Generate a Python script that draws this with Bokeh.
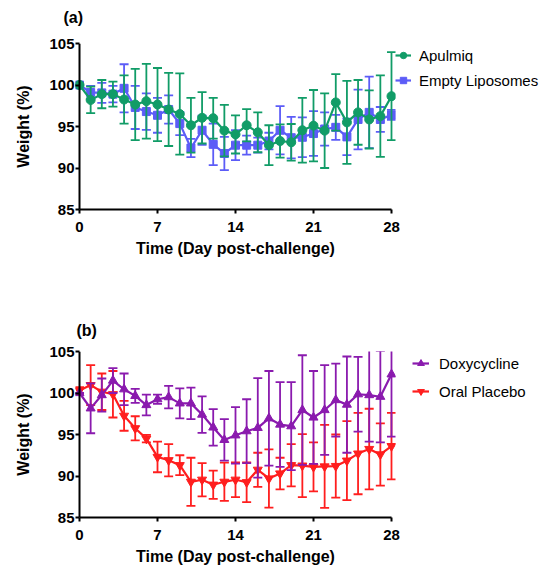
import numpy as np
from bokeh.plotting import figure
from bokeh.models import Range1d, FixedTicker, Legend, LegendItem, ColumnDataSource, Title, Span
from bokeh.layouts import column
from bokeh.embed import file_html
from bokeh.resources import INLINE

days = list(range(29))
x_ticks = [0, 7, 14, 21, 28]
y_ticks = [85, 90, 95, 100, 105]

apulmiq_mean = [100, 98.2, 98.9, 98.9, 98.25, 97.65, 98.05, 97.65, 97.05, 96.5, 95.15, 96.05, 96.0, 94.5, 94.05,
                95.15, 94.3, 92.75, 93.25, 93.1, 94.55, 95.1, 94.5, 97.9, 95.5, 96.7, 95.85, 96.25, 98.65]
apulmiq_err = [0, 1.6, 1.7, 1.5, 2.9, 4.3, 4.5, 4.4, 4.4, 4.9, 3.3, 3.1, 2.45, 3.1, 2.3,
               1.95, 2.4, 2.4, 2.0, 2.2, 3.9, 4.3, 4.5, 3.4, 5.0, 3.9, 3.5, 4.9, 5.3]
empty_mean = [100, 99.1, 99.05, 98.9, 99.6, 97.3, 96.8, 96.35, 97.05, 95.35, 92.4, 94.55, 92.85, 91.75, 92.75,
              92.75, 92.75, 93.25, 94.55, 93.65, 93.7, 94.15, 94.7, 94.9, 93.75, 95.85, 96.7, 95.85, 96.4]
empty_err = [0, 0.8, 1.2, 1.0, 2.9, 2.6, 2.2, 2.1, 1.7, 1.4, 1.1, 1.75, 2.5, 2.0, 1.8,
             1.15, 0.9, 1.0, 2.9, 2.5, 2.4, 2.7, 2.0, 1.5, 2.2, 3.6, 4.3, 1.5, 0.6]
doxy_mean = [100, 98.15, 99.75, 101.5, 100.45, 99.65, 98.55, 99.25, 99.5, 98.75, 98.75, 97.4, 95.85, 94.35, 94.9,
             95.4, 95.8, 96.95, 96.2, 96.0, 97.95, 97.05, 97.95, 99.15, 98.6, 99.85, 99.75, 99.55, 102.25]
doxy_err = [0, 3.0, 2.0, 1.5, 1.9, 0.85, 1.25, 0.55, 1.35, 1.8, 1.9, 2.2, 2.2, 2.5, 3.4,
            3.85, 6.0, 5.7, 5.1, 5.3, 6.6, 5.6, 5.4, 4.4, 5.8, 4.5, 5.6, 5.5, 7.5]
placebo_mean = [100.3, 100.95, 100.15, 99.85, 97.25, 95.75, 94.5, 92.3, 91.9, 91.3, 89.3, 89.55, 88.95, 89.3, 89.55,
                89.25, 90.75, 89.7, 90.3, 91.3, 91.25, 91.1, 91.15, 91.2, 91.85, 92.7, 93.25, 92.6, 93.6]
placebo_err = [0.4, 2.4, 2.2, 2.8, 1.8, 1.45, 0.45, 1.85, 1.95, 1.2, 2.9, 2.0, 1.7, 2.3, 2.1,
               2.4, 2.05, 3.5, 1.9, 2.55, 3.8, 2.95, 5.0, 3.8, 4.75, 4.9, 4.85, 3.75, 4.0]

FONT = "Liberation Sans"
GREEN = "#119C67"
BLUE = "#5C5CF7"
PURPLE = "#8A1AAE"
RED = "#FF1E1E"


def make_fig(top_border, bottom_border):
    p = figure(frame_width=320, frame_height=166,
               x_range=Range1d(-0.36, 28.36), y_range=Range1d(85, 105),
               output_backend="svg", toolbar_location=None,
               min_border_left=75, min_border_right=147,
               min_border_top=top_border, min_border_bottom=bottom_border)
    p.outline_line_color = None
    p.xgrid.visible = False
    p.ygrid.visible = False
    p.xaxis.ticker = FixedTicker(ticks=x_ticks)
    p.yaxis.ticker = FixedTicker(ticks=y_ticks)
    p.xaxis.bounds = (0, 28)
    for ax in (p.xaxis, p.yaxis):
        ax.axis_line_width = 2
        ax.axis_line_color = "black"
        ax.major_tick_line_width = 2
        ax.minor_tick_line_color = None
        ax.major_label_text_font = FONT
        ax.major_label_text_font_size = "15px"
        ax.major_label_text_font_style = "bold"
        ax.major_label_text_color = "black"
        ax.axis_label_text_font = FONT
        ax.axis_label_text_font_size = "16px"
        ax.axis_label_text_font_style = "bold"
        ax.axis_label_text_color = "black"
    p.xaxis.major_tick_out = 4
    p.xaxis.major_tick_in = 0
    p.yaxis.axis_line_color = None
    p.yaxis.major_tick_out = 0
    p.yaxis.major_tick_in = 4
    p.add_layout(Span(location=0, dimension="height", line_color="black", line_width=2))
    p.xaxis.major_label_standoff = 8
    p.yaxis.major_label_standoff = 1
    p.xaxis.axis_label_standoff = 5
    p.yaxis.axis_label_standoff = 14
    p.xaxis.axis_label = "Time (Day post-challenge)"
    p.yaxis.axis_label = "Weight (%)"
    return p


def draw_series(p, mean, err, color, marker, size):
    m = np.array(mean, dtype=float)
    e = np.array(err, dtype=float)
    src = ColumnDataSource(dict(x=days, y=m, lo=m - e, hi=m + e))
    p.segment(x0="x", y0="lo", x1="x", y1="hi", source=src, line_color=color, line_width=1.8)
    p.scatter("x", "hi", marker="dash", size=9, line_color=color, line_width=1.8, source=src)
    p.scatter("x", "lo", marker="dash", size=9, line_color=color, line_width=1.8, source=src)
    ln = p.line("x", "y", source=src, line_color=color, line_width=2.2)
    sc = p.scatter("x", "y", source=src, marker=marker, size=size, fill_color=color, line_color=color)
    return [ln, sc]


def add_legend(p, items, x, y, glyph_width, standoff, spacing):
    leg = Legend(items=[LegendItem(label=l, renderers=r) for l, r in items],
                 location=(x, y), glyph_width=glyph_width, glyph_height=20, label_height=20,
                 label_standoff=standoff, spacing=spacing, padding=0, margin=0,
                 border_line_color=None, background_fill_alpha=0,
                 label_text_font=FONT, label_text_font_size="15px", label_text_color="black")
    p.add_layout(leg, "right")


pa = make_fig(43, 55)
pa.title = Title(text="(a)\n\u00a0", align="left", offset=-12, text_font=FONT, text_font_size="16px",
                 text_font_style="bold", text_color="black", standoff=2)
r_empty = draw_series(pa, empty_mean, empty_err, BLUE, "square", 8)
r_apul = draw_series(pa, apulmiq_mean, apulmiq_err, GREEN, "circle", 9)
add_legend(pa, [("Apulmiq", r_apul), ("Empty Liposomes", r_empty)], 0, 119, 16, 8, 5)

pb = make_fig(87, 52)
pb.title = Title(text="(b)", align="left", offset=1, text_font=FONT, text_font_size="16px",
                 text_font_style="bold", text_color="black", standoff=25)
r_plac = draw_series(pb, placebo_mean, placebo_err, RED, "inverted_triangle", 9)
r_doxy = draw_series(pb, doxy_mean, doxy_err, PURPLE, "triangle", 9)
add_legend(pb, [("Doxycycline", r_doxy), ("Oral Placebo", r_plac)], 17, 116, 17, 10, 8)

layout = column(pa, pb, spacing=0)
open("out.html", "w").write(file_html(layout, INLINE))
